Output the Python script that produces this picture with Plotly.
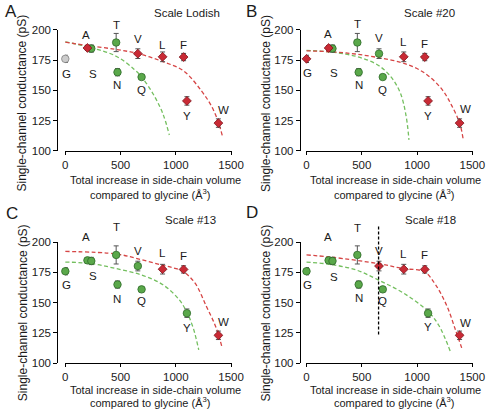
import plotly.graph_objects as go

# ---------------- data ----------------
residues = ["G", "A", "S", "T", "N", "V", "Q", "L", "F", "Y", "W"]
volume = [0, 200, 235, 460, 472, 656, 690, 880, 1070, 1100, 1385]
conductance = [176, 185, 184.5, 189.5, 165, 180.3, 161, 177.7, 177.5, 141.3, 123]
sem = [3, 2, 3, 7.5, 3, 4, 2, 4, 3, 3.5, 3.5]

panel_titles = ["Scale Lodish", "Scale #20", "Scale #13", "Scale #18"]
panel_letters = ["A", "B", "C", "D"]

groups_A = ["grey", "red", "green", "green", "green", "red", "green", "red", "red", "red", "red"]
groups_B = ["red", "red", "green", "green", "green", "green", "green", "red", "red", "red", "red"]
groups_C = ["green", "green", "green", "green", "green", "green", "green", "red", "red", "green", "red"]
groups_D = ["green", "green", "green", "green", "green", "red", "green", "red", "red", "green", "red"]

# fitted curves
fitA_red_x = [0, 197, 443, 658, 883, 1071, 1232, 1320, 1384, 1422]
fitA_red_y = [189.8, 187, 184, 180.4, 173.7, 166, 149.5, 137.4, 124, 112]
fitA_green_x = [0, 236, 460, 621, 693, 796, 883, 941]
fitA_green_y = [190, 185.2, 178.2, 167.5, 160.8, 146.8, 130.6, 113.2]

fitB_red_x = [0, 236, 443, 658, 883, 1069, 1226, 1314, 1387, 1416]
fitB_red_y = [182.6, 181.8, 180, 176.9, 172.3, 164.3, 150.8, 137.4, 122.6, 110.5]
fitB_green_x = [0, 241, 463, 644, 760, 848, 900, 927]
fitB_green_y = [183, 181.5, 177.7, 171, 161.6, 148.1, 129.4, 109.2]

fitC_red_x = [0, 460, 658, 883, 985, 1071, 1174, 1276, 1348, 1384, 1418]
fitC_red_y = [192.4, 190.3, 186.3, 180.9, 178.6, 175.5, 166.1, 147, 133, 124, 113]
fitC_green_x = [0, 236, 460, 693, 883, 1028, 1101, 1159, 1207]
fitC_green_y = [183.6, 182.3, 178.2, 172.8, 164.8, 152.7, 141.9, 128.5, 111]

fitD_red_x = [0, 230, 649, 876, 1067, 1168, 1270, 1344, 1404]
fitD_red_y = [189.5, 187.6, 182.3, 178.2, 175.5, 164.8, 147.3, 128.5, 112.6]
fitD_green_x = [0, 230, 454, 649, 876, 1095, 1198, 1302]
fitD_green_y = [183.6, 181.5, 176.9, 168.8, 158, 143.2, 131.1, 109.5]

thresholdD_x = 652

x_ticks = [0, 500, 1000, 1500]
y_ticks = [100, 125, 150, 175, 200]

# ---------------- style / layout ----------------
W, H = 496, 413
FONT = "Liberation Sans, Arial, Helvetica, sans-serif"
TXT = "#1a1a1a"
STY = {
    "green": dict(symbol="circle", size=7.5, color="#5aa84a", line=dict(color="#2f6b2a", width=0.8)),
    "red": dict(symbol="diamond", size=6.8, color="#c92a35", line=dict(color="#7d1219", width=0.8)),
    "grey": dict(symbol="circle", size=7.5, color="#cccccc", line=dict(color="#808080", width=0.8)),
}
RED_LINE = "#d64545"
GREEN_LINE = "#74bf5f"


def px(x):
    return x / W


def py(y):
    return 1 - y / H


label_shift = [
    [-15, 12.5, -25, 17.6, -13.3, 15, -13.3, 12.3, 12.3, -15, 13.4],
    [-14.3, 14.3, -24.3, 18.6, -13.3, 15.7, -13, 14.7, 13, -15, 14],
    [-14, 23, -14.7, 27.7, -14, 14.7, -12, 16, 13.7, -14.7, 13],
    [-14, 23.7, -16, 27.3, -13, 15, -11.7, 15.3, 14.3, -13.7, 12.7],
]
label_xshift = [1, -1, 1.5, 0, 0, 0, 0, 0, 0, 0, 5.5]

panels = [
    dict(groups=groups_A, fits=[(fitA_green_x, fitA_green_y, GREEN_LINE), (fitA_red_x, fitA_red_y, RED_LINE)],
         xd=(63.7, 235.8), yd=(24.5, 149.3), ypos=56, ytitle=(20, 100), xt1=(157, 179), xt2=(152, 194),
         letter=(0, 6), title=(189.5, 7)),
    dict(groups=groups_B, fits=[(fitB_green_x, fitB_green_y, GREEN_LINE), (fitB_red_x, fitB_red_y, RED_LINE)],
         xd=(312.4, 484.5), yd=(24.5, 149.3), ypos=306, ytitle=(271, 100), xt1=(405, 179), xt2=(403, 194),
         letter=(249, 6), title=(440, 7)),
    dict(groups=groups_C, fits=[(fitC_green_x, fitC_green_y, GREEN_LINE), (fitC_red_x, fitC_red_y, RED_LINE)],
         xd=(63.7, 235.8), yd=(243.3, 367.8), ypos=56, ytitle=(20, 316), xt1=(157, 395), xt2=(152, 408),
         letter=(1, 214), title=(193, 220)),
    dict(groups=groups_D, fits=[(fitD_green_x, fitD_green_y, GREEN_LINE), (fitD_red_x, fitD_red_y, RED_LINE)],
         xd=(312.4, 484.5), yd=(243.3, 367.8), ypos=306, ytitle=(271, 316), xt1=(405, 395), xt2=(403, 408),
         letter=(249, 213), title=(441, 220)),
]

fig = go.Figure()
annotations = []
layout_axes = {}

for i, p in enumerate(panels):
    k = i + 1
    xr = "x" if k == 1 else f"x{k}"
    yr = "y" if k == 1 else f"y{k}"
    xname = "xaxis" if k == 1 else f"xaxis{k}"
    yname = "yaxis" if k == 1 else f"yaxis{k}"

    for fx, fy, col in p["fits"]:
        fig.add_trace(go.Scatter(x=fx, y=fy, mode="lines", xaxis=xr, yaxis=yr,
                                 line=dict(color=col, width=1.3, dash="4px,2.5px", shape="spline"),
                                 hoverinfo="skip", showlegend=False))

    for grp in ["grey", "green", "red"]:
        idx = [j for j, g in enumerate(p["groups"]) if g == grp]
        if not idx:
            continue
        fig.add_trace(go.Scatter(
            x=[volume[j] for j in idx], y=[conductance[j] for j in idx],
            error_y=dict(type="data", array=[sem[j] for j in idx], color="#555555", thickness=1, width=2.5),
            mode="markers", marker=STY[grp], xaxis=xr, yaxis=yr, cliponaxis=False,
            showlegend=False))

    for j, r in enumerate(residues):
        annotations.append(dict(x=volume[j], y=conductance[j], xref=xr, yref=yr, text=r, showarrow=False,
                                xanchor="center", yanchor="middle",
                                yshift=label_shift[i][j], xshift=label_xshift[j],
                                font=dict(family=FONT, size=11.5, color=TXT)))

    layout_axes[xname] = dict(domain=[px(p["xd"][0]), px(p["xd"][1])], range=[-5, 1505], anchor=yr,
                              showline=True, linecolor="black", linewidth=1, ticks="outside", ticklen=3,
                              tickcolor="black", tickvals=x_ticks, showgrid=False, zeroline=False,
                              tickfont=dict(family=FONT, size=11.5, color=TXT))
    layout_axes[yname] = dict(domain=[py(p["yd"][1]), py(p["yd"][0])], range=[100, 200], anchor="free",
                              position=px(p["ypos"]), showline=True, linecolor="black", linewidth=1,
                              ticks="outside", ticklen=4, tickcolor="black", tickvals=y_ticks,
                              showgrid=False, zeroline=False,
                              tickfont=dict(family=FONT, size=11.5, color=TXT))

    annotations.append(dict(x=px(p["ytitle"][0]), y=py(p["ytitle"][1]), xref="paper", yref="paper",
                            text="Single-channel conductance (pS)", textangle=-90, showarrow=False,
                            xanchor="center", yanchor="middle", font=dict(family=FONT, size=12, color=TXT)))
    annotations.append(dict(x=px(p["xt1"][0]), y=py(p["xt1"][1]), xref="paper", yref="paper",
                            text="Total increase in side-chain volume", showarrow=False,
                            xanchor="center", yanchor="middle", font=dict(family=FONT, size=11, color=TXT)))
    annotations.append(dict(x=px(p["xt2"][0]), y=py(p["xt2"][1]), xref="paper", yref="paper",
                            text="compared to glycine (Å<sup>3</sup>)", showarrow=False,
                            xanchor="center", yanchor="middle", font=dict(family=FONT, size=11, color=TXT)))
    annotations.append(dict(x=px(p["letter"][0]), y=py(p["letter"][1]), xref="paper", yref="paper",
                            text=panel_letters[i], showarrow=False, xanchor="left", yanchor="middle",
                            font=dict(family=FONT, size=17, color=TXT)))
    annotations.append(dict(x=px(p["title"][0]), y=py(p["title"][1]), xref="paper", yref="paper",
                            text=panel_titles[i], showarrow=False, xanchor="center", yanchor="middle",
                            font=dict(family=FONT, size=11.5, color=TXT)))

shapes = [dict(type="line", xref="x4", yref="paper", x0=thresholdD_x, x1=thresholdD_x,
               y0=py(338.3), y1=py(226.7), line=dict(color="black", width=1.3, dash="3px,2px"))]

fig.update_layout(width=W, height=H, margin=dict(l=0, r=0, t=0, b=0),
                  paper_bgcolor="white", plot_bgcolor="white", showlegend=False,
                  annotations=annotations, shapes=shapes, **layout_axes)

fig.write_html("out.html", config={"displayModeBar": False},
               post_script="document.body.style.margin='0';document.body.style.padding='0';")
